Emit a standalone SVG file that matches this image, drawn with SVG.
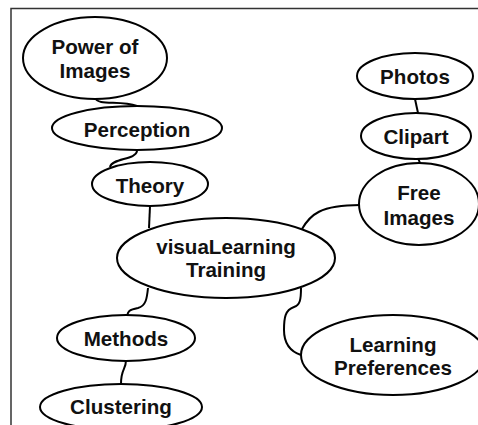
<svg xmlns="http://www.w3.org/2000/svg" width="478" height="425" viewBox="0 0 478 425">
<style>
.n ellipse{fill:#fff;stroke:#000;stroke-width:2}
.n text{font-family:"Liberation Sans",Arial,sans-serif;font-weight:bold;font-size:20.6px;fill:#111;text-anchor:middle}
.c path{fill:none;stroke:#000;stroke-width:2}
</style>
<rect width="478" height="425" fill="#fff"/>
<path d="M11,425 V8.5 H478" fill="none" stroke="#333" stroke-width="1.5"/>
<g class="c" id="connectors">
<path d="M95,98 C98,106 120,100 137,106"/>
<path d="M137,151 C136,160 112,158 110,167"/>
<path d="M150,206 L149,228"/>
<path d="M148,288 C147,298 146,306 138,308 C128,310 128,312 127,316"/>
<path d="M126,360 C126,370 121,368 121,384"/>
<path d="M302,229 C310,215 320,205 360,205"/>
<path d="M301,288 C301,300 300,305 294,307 C285,310 284,318 284,330 C284,345 292,352 301,355"/>
<path d="M415,99 L418,113"/>
<path d="M418,158 L420,163"/>
</g>
<g class="n" id="power"><ellipse cx="95" cy="58" rx="72" ry="41"/><text x="95" y="54">Power of</text><text x="95" y="78">Images</text></g>
<g class="n" id="perception"><ellipse cx="137" cy="128" rx="85" ry="22"/><text x="137" y="137">Perception</text></g>
<g class="n" id="theory"><ellipse cx="150" cy="184" rx="58" ry="22"/><text x="150" y="193">Theory</text></g>
<g class="n" id="center"><ellipse cx="226" cy="258" rx="109" ry="40"/><text x="226" y="254">visuaLearning</text><text x="226" y="277">Training</text></g>
<g class="n" id="methods"><ellipse cx="126" cy="338" rx="69" ry="23"/><text x="126" y="346">Methods</text></g>
<g class="n" id="clustering"><ellipse cx="121" cy="407" rx="81" ry="23"/><text x="121" y="414">Clustering</text></g>
<g class="n" id="photos"><ellipse cx="415" cy="76" rx="58" ry="23"/><text x="415" y="84">Photos</text></g>
<g class="n" id="clipart"><ellipse cx="416" cy="136" rx="55" ry="23"/><text x="416" y="144">Clipart</text></g>
<g class="n" id="free"><ellipse cx="419" cy="204" rx="60" ry="41"/><text x="419" y="200">Free</text><text x="419" y="225">Images</text></g>
<g class="n" id="prefs"><ellipse cx="393" cy="355" rx="92" ry="40"/><text x="393" y="352">Learning</text><text x="393" y="375">Preferences</text></g>
</svg>
